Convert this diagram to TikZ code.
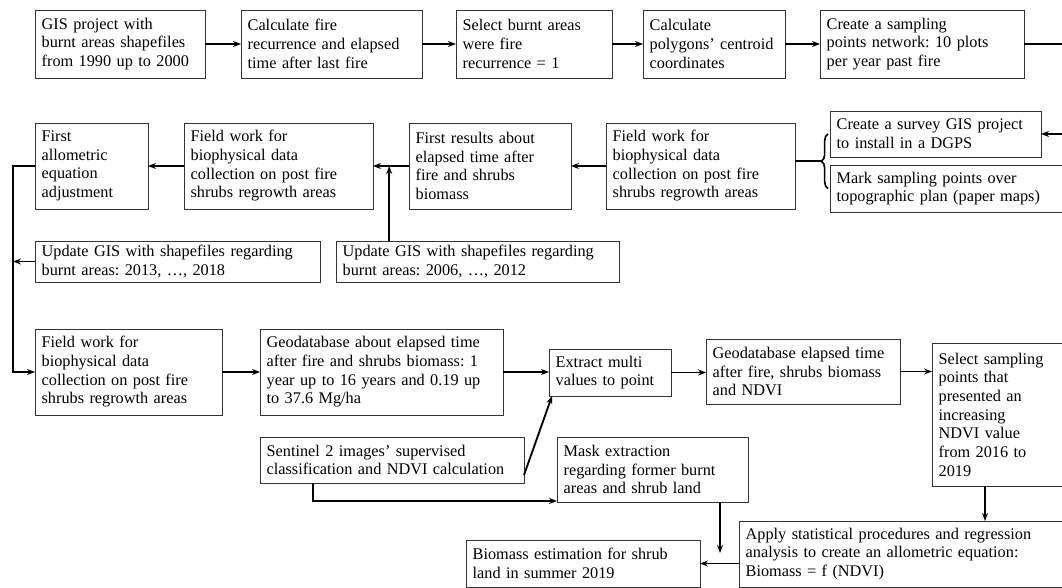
\documentclass[tikz,border=0pt]{standalone}
\usepackage{fontspec}
\setmainfont{Liberation Serif}
\usetikzlibrary{arrows.meta,calc,decorations.pathreplacing}
\frenchspacing
\hyphenpenalty=10000
\exhyphenpenalty=10000
\newcommand\mkbox[6]{%
  \pgfmathsetmacro\bw{(#4-#2)*0.75}%
  \pgfmathsetmacro\bh{(#5-#3)*0.75}%
  \pgfmathsetmacro\tw{\bw-10}%
  \node[box, minimum width=\bw pt, minimum height=\bh pt, text width=\tw pt] (#1) at (#2,#3) {#6};}
\begin{document}
\begin{tikzpicture}[x=0.75pt,y=-0.75pt,
  box/.style={draw=black!80, line width=0.6pt, align=left, inner xsep=5pt, inner ysep=0pt,
    anchor=north west, outer sep=0pt, font=\fontsize{12.2}{14}\selectfont},
  flow/.style={line width=1.4pt, -{Stealth[length=6pt,width=4.5pt]}},
  link/.style={line width=1.4pt}]
\useasboundingbox (0,0) rectangle (1062,588);
\fill[white] (0,0) rectangle (1062,588);
% row 1
\mkbox{b1}{35}{10}{205}{78}{GIS project with\\burnt areas shapefiles\\from 1990 up to 2000}
\mkbox{b2}{241}{10}{422}{78}{Calculate fire\\recurrence and elapsed\\time after last fire}
\mkbox{b3}{456}{10}{612}{78}{Select burnt areas\\were fire\\recurrence = 1}
\mkbox{b4}{643}{10}{785}{78}{Calculate\\polygons’ centroid\\coordinates}
\mkbox{b5}{820}{10}{1024}{78}{Create a sampling\\points network: 10 plots\\per year past fire}
% row 2
\mkbox{f1}{35}{123}{148}{209}{First\\allometric\\equation\\adjustment}
\mkbox{f2}{184}{123}{373}{209}{Field work for\\biophysical data\\collection on post fire\\shrubs regrowth areas}
\mkbox{f3}{409}{123}{571}{209}{First results about\\elapsed time after\\fire and shrubs\\biomass}
\mkbox{f4}{606}{123}{795}{209}{Field work for\\biophysical data\\collection on post fire\\shrubs regrowth areas}
\mkbox{survey}{830}{111}{1041}{157}{Create a survey GIS project\\to install in a DGPS}
\mkbox{mark}{830}{165}{1066}{212}{Mark sampling points over\\topographic plan (paper maps)}
% row 3
\mkbox{u1}{35}{241}{320}{282}{Update GIS with shapefiles regarding\\burnt areas: 2013, …, 2018}
\mkbox{u2}{336}{241}{619}{282}{Update GIS with shapefiles regarding\\burnt areas: 2006, …, 2012}
% row 4
\mkbox{fw}{35}{329}{222}{415}{Field work for\\biophysical data\\collection on post fire\\shrubs regrowth areas}
\mkbox{g1}{260}{329}{503}{415}{Geodatabase about elapsed time\\after fire and shrubs biomass: 1\\year up to 16 years and 0.19 up\\to 37.6 Mg/ha}
\mkbox{ex}{549}{349}{671}{396}{Extract multi\\values to point}
\mkbox{g2}{706}{339}{900}{404}{Geodatabase elapsed time\\after fire, shrubs biomass\\and NDVI}
\mkbox{sel}{932}{343}{1066}{486}{Select sampling\\points that\\presented an\\increasing\\NDVI value\\from 2016 to\\2019}
\mkbox{sen}{260}{437}{524}{483}{Sentinel 2 images’ supervised\\classification and NDVI calculation}
\mkbox{mask}{557}{437}{748}{502}{Mask extraction\\regarding former burnt\\areas and shrub land}
\mkbox{bio}{466}{540}{700}{587}{Biomass estimation for shrub\\land in summer 2019}
\mkbox{app}{739}{521}{1066}{587}{Apply statistical procedures and regression\\analysis to create an allometric equation:\\Biomass = f (NDVI)}
% connectors row 1
\draw[flow] (b1.east) -- (b2.west);
\draw[flow] (b2.east) -- (b3.west);
\draw[flow] (b3.east) -- (b4.west);
\draw[flow] (b4.east) -- (b5.west);
\draw[flow] (b5.east) -- ++(60,0) |- (survey.east);
% brace
\draw[line width=1.2pt, decorate, decoration={brace, amplitude=5pt}]
  ($(mark.west)+(-2,0)$) -- ($(survey.west)+(-2,0)$);
\coordinate (btip) at ($(survey.west)!0.5!(mark.west)+(-9,0)$);
\draw[link] (btip) -- (btip -| f4.east);
% row 2
\draw[flow] (f4.west) -- (f3.east);
\draw[flow] (f3.west) -- (f2.east);
\draw[flow] (f2.west) -- (f1.east);
\coordinate (j) at ($(f2.east)!0.45!(f3.west)$);
\draw[flow] (j |- u2.north) -- (j);
% left loop
\coordinate (lx) at (13,0);
\draw[flow] (f1.west) -- (f1.west -| lx) |- (fw.west);
\draw[flow] (u1.west) -- (u1.west -| lx);
% row 4
\draw[flow] (fw.east) -- (g1.west);
\draw[flow] (g1.east) -- (g1.east -| ex.west);
\draw[flow] (ex.east) -- (ex.east -| g2.west);
\draw[flow] (g2.east) -- (g2.east -| sel.west);
\draw[flow] ($(sen.south east)+(0,-8)$) -- ($(ex.south west)+(3,0)$);
\coordinate (s0) at ($(sen.south west)+(53,0)$);
\draw[flow] (s0) |- ($(mask.south west)+(0,-1)$);
\coordinate (mtip) at ($(mask.south west)+(163,51)$);
\draw[flow] (mtip |- mask.south) -- (mtip);
\coordinate (s1) at ($(sel.south west)+(53,0)$);
\draw[flow] (s1) -- (s1 |- app.north);
\draw[flow] (bio.east -| app.west) -- (bio.east);
\end{tikzpicture}
\end{document}
